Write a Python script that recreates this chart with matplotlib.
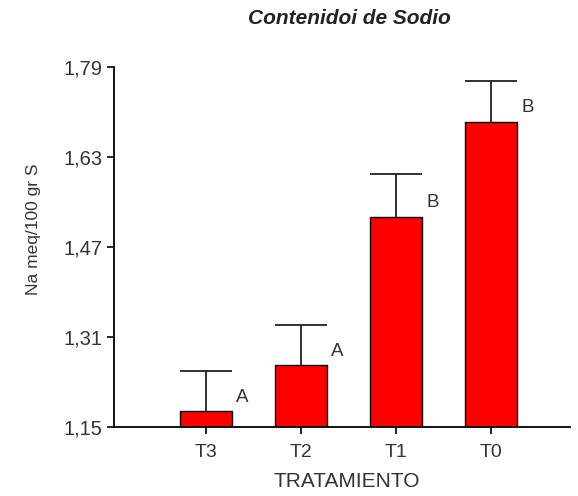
import matplotlib
matplotlib.use("Agg")
import matplotlib.pyplot as plt

plt.rcParams['font.family'] = ['Liberation Sans', 'DejaVu Sans']

treatments = ["T3", "T2", "T1", "T0"]
means = [1.178, 1.260, 1.524, 1.693]
errors = [0.072, 0.072, 0.075, 0.072]
groups = ["A", "A", "B", "B"]
yticks = [1.15, 1.31, 1.47, 1.63, 1.79]
ytick_labels = ["1,15", "1,31", "1,47", "1,63", "1,79"]

fig = plt.figure(figsize=(5.78, 4.96), dpi=100)
ax = fig.add_axes([0.197, 0.139, 0.789, 0.726])

x = list(range(len(treatments)))
width = 0.54
base = yticks[0]
heights = [m - base for m in means]
ax.bar(x, heights, width=width, bottom=base, color="#ff0000",
       edgecolor="black", linewidth=1.0, zorder=2)

# upper error bars only: stem from the bar top, cap as wide as the bar
_, caps, _ = ax.errorbar(x, means, yerr=[[0] * len(errors), errors], fmt="none",
                         ecolor="#222222", elinewidth=1.3, capsize=18.5,
                         capthick=1.3, zorder=3)
caps[0].set_visible(False)

for xi, m, g in zip(x, means, groups):
    ax.annotate(g, xy=(xi + width / 2, m), xytext=(8, 10),
                textcoords="offset points", fontsize=13.5, color="#333333",
                ha="center", va="center")

ax.set_xlim(-0.968, 3.83)
ax.set_ylim(1.15, 1.79)
ax.set_xticks(x)
ax.set_xticklabels(treatments, fontsize=14, color="#333333")
ax.set_yticks(yticks)
ax.set_yticklabels(ytick_labels, fontsize=14.5, color="#333333")

for side in ("top", "right"):
    ax.spines[side].set_visible(False)
for side in ("left", "bottom"):
    ax.spines[side].set_linewidth(1.3)
ax.tick_params(axis="both", direction="out", length=5, width=1.2)
ax.tick_params(axis="x", pad=7)
ax.tick_params(axis="y", pad=3)

ax.set_xlabel("TRATAMIENTO", fontsize=15, color="#333333")
ax.xaxis.set_label_coords(0.511, -0.125)
ax.set_ylabel("Na meq/100 gr S", fontsize=12.5, color="#333333")
ax.yaxis.set_label_coords(-0.16, 0.55)
fig.text(0.605, 0.963, "Contenidoi de Sodio", fontsize=15, fontweight="bold",
         fontstyle="italic", ha="center", va="center", color="#222222")

fig.savefig("out.png", dpi=100, facecolor="white")
